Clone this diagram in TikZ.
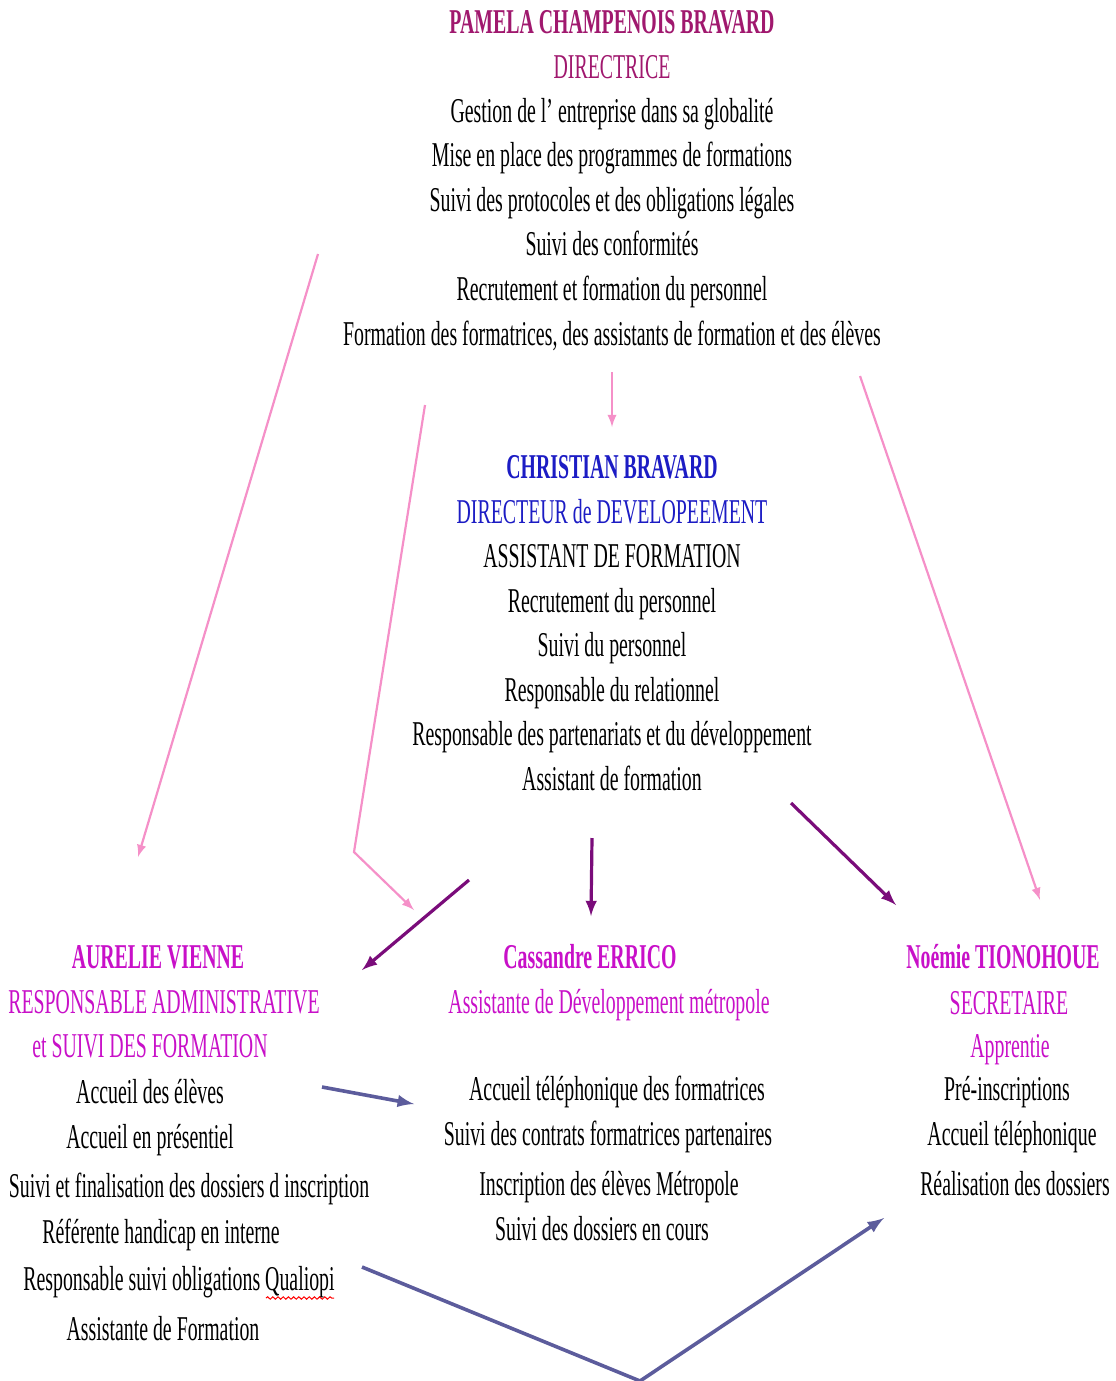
\documentclass[tikz,border=0pt]{standalone}
\usepackage{fontspec}
\setmainfont{Liberation Serif}[FakeStretch=0.57]
\usetikzlibrary{arrows,decorations.pathmorphing}

\definecolor{dirplum}{HTML}{A0186E}
\definecolor{devblue}{HTML}{1C1CC4}
\definecolor{teammag}{HTML}{C810C8}
\definecolor{linkpink}{HTML}{F590C8}
\definecolor{linkplum}{HTML}{7A0C7A}
\definecolor{linkslate}{HTML}{5C5C9C}

\newcommand{\orgfont}{\fontsize{17.4}{21}\selectfont}

\tikzset{
  txt/.style={anchor=base,inner sep=0pt,font=\orgfont},
  boss/.style={txt,font=\orgfont\bfseries},
  pinklink/.style={-latex,linkpink,line width=1.1pt},
  plumlink/.style={-latex,linkplum,line width=1.6pt},
  slatelink/.style={-latex,linkslate,line width=1.8pt}
}

\begin{document}
\begin{tikzpicture}[x=0.5pt,y=-0.5pt]
\useasboundingbox (0,0) rectangle (1115,1381);

% directrice
\node[boss,text=dirplum] (pcb) at (612,33) {PAMELA CHAMPENOIS BRAVARD};
\node[txt,text=dirplum] (pcbrole) at (612,78) {DIRECTRICE};
\foreach \t [count=\i] in {Gestion de l' entreprise dans sa globalité,
  Mise en place des programmes de formations,
  Suivi des protocoles et des obligations légales,
  Suivi des conformités,
  Recrutement et formation du personnel,
  {Formation des formatrices, des assistants de formation et des élèves}}
  \node[txt] (pcb\i) at (612,{122+44.6*(\i-1)}) {\t};

% directeur de developpement
\node[boss,text=devblue] (cb) at (612,478) {CHRISTIAN BRAVARD};
\node[txt,text=devblue] (cbrole) at (612,523) {DIRECTEUR de DEVELOPEEMENT};
\node[txt] (cbrole2) at (612,567) {ASSISTANT DE FORMATION};
\foreach \t [count=\i] in {Recrutement du personnel,
  Suivi du personnel,
  Responsable du relationnel,
  Responsable des partenariats et du développement,
  Assistant de formation}
  \node[txt] (cb\i) at (612,{612+44.6*(\i-1)}) {\t};

% responsable administrative
\node[boss,text=teammag] (av) at (158,968) {AURELIE VIENNE};
\node[txt,text=teammag] (avrole) at (164,1013) {RESPONSABLE ADMINISTRATIVE};
\node[txt,text=teammag] (avrole2) at (150,1057) {et SUIVI DES FORMATION};
\foreach \x/\y/\t [count=\i] in {150/1103/Accueil des élèves,
  150/1148/Accueil en présentiel,
  189/1197/Suivi et finalisation des dossiers d inscription,
  161/1243/Référente handicap en interne,
  179/1290/Responsable suivi obligations Qualiopi,
  163/1340/Assistante de Formation}
  \node[txt] (av\i) at (\x,\y) {\t};
\draw[red,line width=0.5pt,decorate,decoration={snake,amplitude=0.6pt,segment length=2.6pt}]
  (266,1298) -- (334,1298);

% assistante de developpement
\node[boss,text=teammag] (ce) at (590,968) {Cassandre ERRICO};
\node[txt,text=teammag] (cerole) at (609,1013) {Assistante de Développement métropole};
\foreach \x/\y/\t [count=\i] in {617/1100/Accueil téléphonique des formatrices,
  608/1145/Suivi des contrats formatrices partenaires,
  609/1195/Inscription des élèves Métropole,
  602/1240/Suivi des dossiers en cours}
  \node[txt] (ce\i) at (\x,\y) {\t};

% secretaire
\node[boss,text=teammag] (nt) at (1003,968) {Noémie TIONOHOUE};
\node[txt,text=teammag] (ntrole) at (1009,1014) {SECRETAIRE};
\node[txt,text=teammag] (ntrole2) at (1010,1057) {Apprentie};
\foreach \x/\y/\t [count=\i] in {1007/1100/Pré-inscriptions,
  1012/1145/Accueil téléphonique,
  1015/1195/Réalisation des dossiers}
  \node[txt] (nt\i) at (\x,\y) {\t};

% liens
\coordinate (l1a) at (318,254);  \coordinate (l1b) at (138,857);
\coordinate (l2a) at (425,405);  \coordinate (l2k) at (354,852);  \coordinate (l2b) at (414,910);
\coordinate (l3a) at (612,372);  \coordinate (l3b) at (612,427);
\coordinate (l4a) at (860,376);  \coordinate (l4b) at (1040,900);
\coordinate (m1a) at (469,880);  \coordinate (m1b) at (362,970);
\coordinate (m2a) at (592,838);  \coordinate (m2b) at (591,916);
\coordinate (m3a) at (791,803);  \coordinate (m3b) at (896,905);
\coordinate (s1a) at (322,1087); \coordinate (s1b) at (414,1104);
\coordinate (s2a) at (362,1267); \coordinate (s2k) at (640,1381); \coordinate (s2b) at (884,1218);

\draw[pinklink] (l1a) -- (l1b);
\draw[pinklink] (l2a) -- (l2k) -- (l2b);
\draw[pinklink] (l3a) -- (l3b);
\draw[pinklink] (l4a) -- (l4b);
\draw[plumlink] (m1a) -- (m1b);
\draw[plumlink] (m2a) -- (m2b);
\draw[plumlink] (m3a) -- (m3b);
\draw[slatelink] (s1a) -- (s1b);
\draw[slatelink] (s2a) -- (s2k) -- (s2b);

\end{tikzpicture}
\end{document}
